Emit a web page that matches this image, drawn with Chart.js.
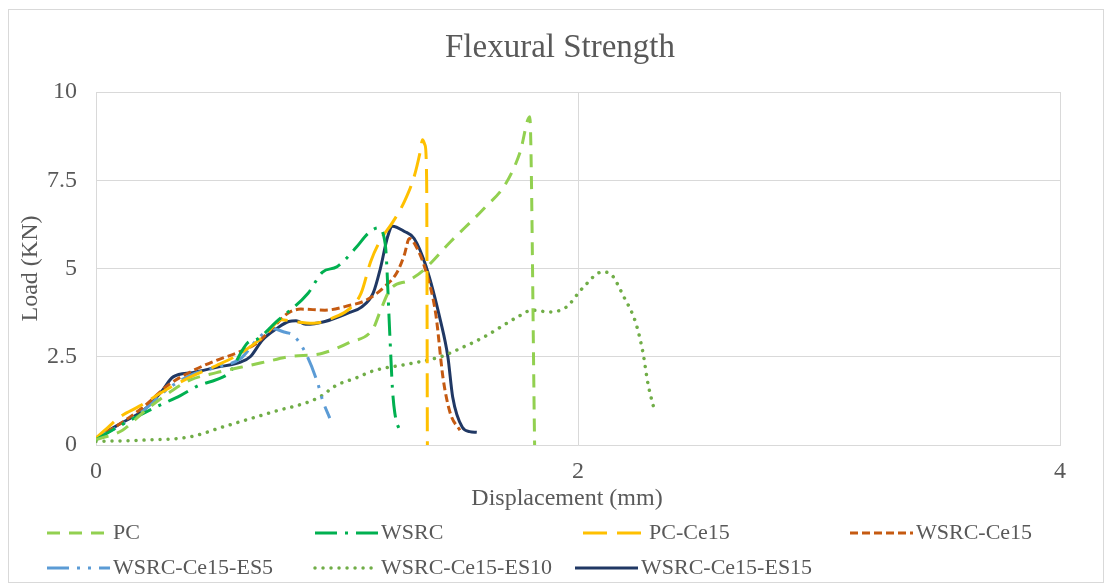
<!DOCTYPE html>
<html>
<head>
<meta charset="utf-8">
<title>Flexural Strength</title>
<script src="https://cdn.jsdelivr.net/npm/chart.js@4.4.1/dist/chart.umd.min.js"></script>
<style>
  html, body { margin: 0; padding: 0; background: #fff; }
  #wrap { position: relative; width: 1107px; height: 585px; }
</style>
</head>
<body>
<div id="wrap"><canvas id="chartFlexion"></canvas></div>
<script>
// Load - displacement curves (mm, KN)
const seriesNames = ['PC', 'WSRC', 'PC-Ce15', 'WSRC-Ce15', 'WSRC-Ce15-ES5', 'WSRC-Ce15-ES10', 'WSRC-Ce15-ES15'];

const pcX = [0, 0.11, 0.2, 0.32, 0.39, 0.5, 0.6, 0.7, 0.8, 0.94, 1.05, 1.15, 1.18, 1.22, 1.3, 1.36, 1.47, 1.61, 1.7, 1.76, 1.8, 1.82];
const pcY = [0.15, 0.42, 0.95, 1.56, 1.84, 2.05, 2.2, 2.35, 2.5, 2.6, 2.9, 3.3, 3.8, 4.4, 4.67, 4.96, 5.75, 6.7, 7.4, 8.3, 9.3, 0];

const wsrcX = [0, 0.1, 0.25, 0.35, 0.43, 0.5, 0.56, 0.6, 0.63, 0.67, 0.75, 0.88, 0.94, 1.0, 1.08, 1.13, 1.17, 1.2, 1.22, 1.23, 1.24, 1.27];
const wsrcY = [0.15, 0.55, 1.08, 1.4, 1.7, 1.85, 2.1, 2.6, 2.9, 3.0, 3.5, 4.3, 4.9, 5.05, 5.6, 6.0, 6.15, 5.7, 3.0, 1.6, 0.9, 0.3];

const pcCeX = [0, 0.05, 0.1, 0.18, 0.3, 0.4, 0.5, 0.6, 0.7, 0.77, 0.82, 0.9, 1.0, 1.05, 1.1, 1.14, 1.18, 1.23, 1.28, 1.32, 1.345, 1.355, 1.365, 1.372, 1.375];
const pcCeY = [0.2, 0.5, 0.8, 1.1, 1.6, 1.95, 2.25, 2.6, 3.1, 3.55, 3.5, 3.45, 3.65, 3.85, 4.3, 5.2, 5.8, 6.3, 6.9, 7.6, 8.3, 8.65, 8.5, 7.5, 0];

const wsrcCeX = [0, 0.1, 0.2, 0.3, 0.4, 0.5, 0.6, 0.67, 0.73, 0.8, 0.85, 0.95, 1.05, 1.12, 1.2, 1.25, 1.28, 1.3, 1.33, 1.37, 1.41, 1.44, 1.47, 1.51];
const wsrcCeY = [0.2, 0.6, 1.1, 1.7, 2.1, 2.4, 2.65, 2.9, 3.3, 3.75, 3.85, 3.82, 3.95, 4.1, 4.5, 4.9, 5.4, 5.85, 5.6, 4.9, 3.7, 1.9, 0.9, 0.42];

const es5X = [0, 0.1, 0.2, 0.3, 0.4, 0.5, 0.6, 0.67, 0.73, 0.78, 0.82, 0.87, 0.92, 0.94, 0.97];
const es5Y = [0.2, 0.55, 1.0, 1.6, 2.0, 2.2, 2.45, 3.0, 3.3, 3.2, 3.1, 2.6, 1.75, 1.27, 0.76];

const es10X = [0, 0.2, 0.39, 0.53, 0.73, 0.92, 1.0, 1.08, 1.15, 1.3, 1.43, 1.5, 1.61, 1.75, 1.81, 1.88, 1.95, 2.02, 2.1, 2.13, 2.19, 2.24, 2.27, 2.29, 2.32];
const es10Y = [0.1, 0.14, 0.23, 0.52, 0.93, 1.33, 1.7, 1.9, 2.1, 2.3, 2.5, 2.7, 3.06, 3.63, 3.82, 3.77, 3.9, 4.45, 4.9, 4.87, 4.2, 3.45, 2.6, 1.75, 0.9];

const es15X = [0, 0.05, 0.1, 0.2, 0.27, 0.32, 0.4, 0.5, 0.6, 0.64, 0.69, 0.75, 0.8, 0.83, 0.87, 0.95, 1.05, 1.1, 1.15, 1.18, 1.21, 1.23, 1.28, 1.32, 1.37, 1.43, 1.46, 1.48, 1.52, 1.55, 1.58];
const es15Y = [0.15, 0.4, 0.6, 1.0, 1.5, 1.93, 2.05, 2.2, 2.35, 2.5, 2.97, 3.3, 3.5, 3.52, 3.42, 3.5, 3.75, 3.9, 4.3, 5.0, 5.9, 6.2, 6.05, 5.85, 5.05, 3.5, 2.5, 1.36, 0.5, 0.38, 0.36];

const xTicks = [0, 2, 4];
const yTicks = [0, 2.5, 5, 7.5, 10];

const tituloGrafico = 'Flexural Strength';
const tituloX = 'Displacement (mm)';
const tituloY = 'Load (KN)';

const SERIF = "'Liberation Serif', 'Times New Roman', serif";
const GRIS_TEXTO = '#595959';
const GRIS_LINEA = '#d9d9d9';

function puntos(xs, ys) {
    return xs.map((x, i) => ({ x: x, y: ys[i] }));
}

function serie(i, xs, ys, color, dash, extra) {
    return Object.assign({
        label: seriesNames[i],
        data: puntos(xs, ys),
        borderColor: color,
        backgroundColor: color,
        borderWidth: 3,
        borderDash: dash,
        borderCapStyle: 'butt',
        pointRadius: 0,
        fill: false,
        cubicInterpolationMode: 'monotone'
    }, extra || {});
}

const datasets = [
    serie(0, pcX, pcY, '#92D050', [13, 9]),
    serie(1, wsrcX, wsrcY, '#00B050', [22, 8, 3, 8]),
    serie(2, pcCeX, pcCeY, '#FFC000', [24, 10]),
    serie(3, wsrcCeX, wsrcCeY, '#C55A11', [8, 4]),
    serie(4, es5X, es5Y, '#5B9BD5', [22, 8, 3, 8, 3, 8]),
    serie(5, es10X, es10Y, '#70AD47', [0.01, 8], { borderCapStyle: 'round', borderWidth: 3.5 }),
    serie(6, es15X, es15Y, '#203864', [])
];

// Marco exterior y títulos (centrados como en la hoja de cálculo)
const marco = {
    id: 'marco',
    beforeDraw(chart) {
        const ctx = chart.ctx;
        ctx.save();
        ctx.strokeStyle = GRIS_LINEA;
        ctx.lineWidth = 1;
        ctx.strokeRect(8.5, 9.5, 1095, 573);
        ctx.restore();
    },
    afterDraw(chart) {
        const ctx = chart.ctx;
        ctx.save();
        ctx.fillStyle = GRIS_TEXTO;
        ctx.textAlign = 'center';
        ctx.textBaseline = 'middle';
        ctx.font = "33px " + SERIF;
        ctx.fillText(tituloGrafico, 560, 48);
        ctx.font = "24px " + SERIF;
        ctx.fillText(tituloX, 567, 499);
        ctx.restore();
    }
};

// Leyenda inferior en dos filas, con la muestra de trazo de cada serie
const posLeyenda = [[47, 533], [315, 533], [583, 533], [850, 533], [47, 568], [315, 568], [575, 568]];
const leyenda = {
    id: 'leyenda',
    afterDraw(chart) {
        const ctx = chart.ctx;
        ctx.save();
        chart.data.datasets.forEach((ds, i) => {
            const [x, y] = posLeyenda[i];
            ctx.beginPath();
            ctx.strokeStyle = ds.borderColor;
            ctx.lineWidth = ds.borderWidth;
            ctx.lineCap = ds.borderCapStyle;
            ctx.setLineDash(ds.borderDash);
            ctx.moveTo(x, y);
            ctx.lineTo(x + 63, y);
            ctx.stroke();
            ctx.setLineDash([]);
            ctx.fillStyle = GRIS_TEXTO;
            ctx.font = "22px " + SERIF;
            ctx.textBaseline = 'middle';
            ctx.textAlign = 'left';
            ctx.fillText(ds.label, x + 66, y);
        });
        ctx.restore();
    }
};

new Chart(document.getElementById('chartFlexion'), {
    type: 'scatter',
    data: { datasets: datasets },
    options: {
        responsive: true,
        maintainAspectRatio: false,
        animation: false,
        showLine: true,
        layout: { padding: { left: 0, right: 47, top: 92, bottom: 70 } },
        plugins: {
            legend: { display: false },
            tooltip: { enabled: false },
            title: { display: false }
        },
        scales: {
            x: {
                type: 'linear',
                min: 0,
                max: 4,
                afterBuildTicks: scale => { scale.ticks = xTicks.map(v => ({ value: v })); },
                afterFit: scale => { scale.height = 70; },
                grid: { color: GRIS_LINEA, drawTicks: false },
                border: { color: GRIS_LINEA },
                ticks: { color: GRIS_TEXTO, padding: 12, font: { family: SERIF, size: 24 } }
            },
            y: {
                type: 'linear',
                min: 0,
                max: 10,
                afterBuildTicks: scale => { scale.ticks = yTicks.map(v => ({ value: v })); },
                afterFit: scale => { scale.width = 96; },
                grid: { color: GRIS_LINEA, drawTicks: false },
                border: { color: GRIS_LINEA },
                ticks: { color: GRIS_TEXTO, padding: 19, font: { family: SERIF, size: 24 } },
                title: {
                    display: true,
                    text: tituloY,
                    color: GRIS_TEXTO,
                    font: { family: SERIF, size: 24 },
                    padding: { top: 16, bottom: 0 }
                }
            }
        }
    },
    plugins: [marco, leyenda]
});
</script>
</body>
</html>
